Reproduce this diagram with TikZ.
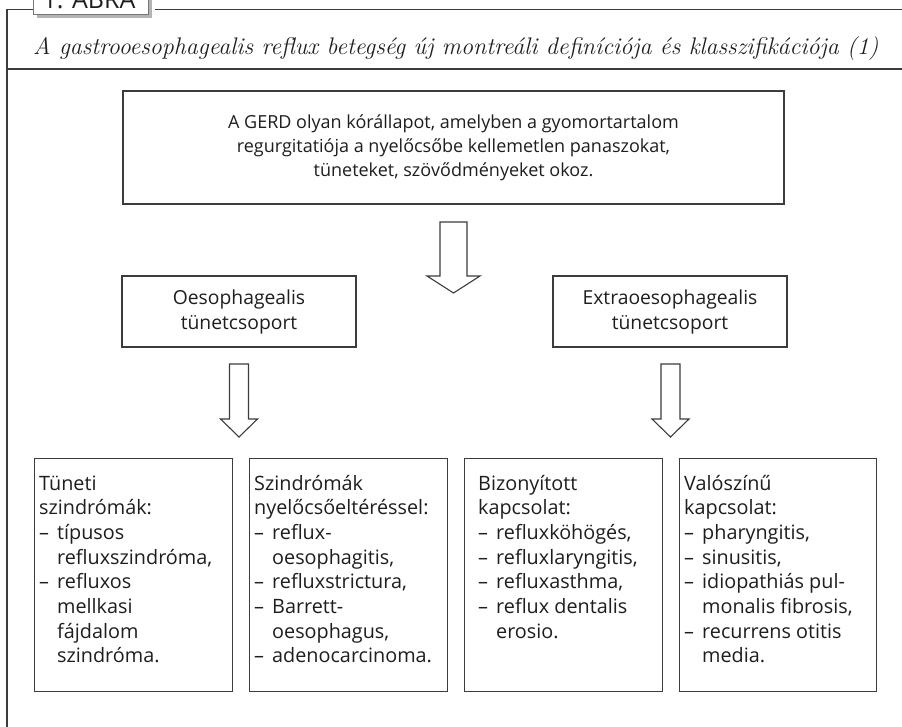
\documentclass[tikz,border=0pt]{standalone}
\usepackage{fontspec}
\newfontfamily\bodyfont{Open Sans}
\definecolor{ln}{HTML}{3C3C3C}
\definecolor{tx}{HTML}{1E1E1E}
\definecolor{shadowgray}{HTML}{B4B4B4}
\newcommand\dashitem{\makebox[18pt][l]{–}}
\newcommand\contitem{\hspace*{18pt}}
\newcommand\linesleft[1]{\begin{tabular}[t]{@{}l@{}}#1\end{tabular}}
\begin{document}
\begin{tikzpicture}[x=1pt,y=-1pt,
  frameline/.style={draw=ln, line width=1.3pt},
  box/.style={draw=ln, line width=1.3pt, fill=white, inner sep=0pt},
  txt/.style={inner sep=0pt, font=\bodyfont\fontsize{19.8}{24.7}\selectfont, text=tx},
  ctxt/.style={txt, align=center},
  blockarrow/.style={draw=ln, line width=1.1pt, fill=white, line join=miter}]
\useasboundingbox (0,0) rectangle (902,727);

% frame
\draw[frameline] (33,9.5) -- (7,9.5) -- (7,727);
\draw[frameline] (155,9.5) -- (902,9.5);
\draw[frameline] (7,69) -- (902,69);

% label
\fill[shadowgray] (37,-12) rectangle (152,18.5);
\draw[draw=ln!70, line width=1pt, fill=white] (33,-12) rectangle (148,15);
\node[txt, font=\bodyfont\fontsize{25}{30}\selectfont, anchor=base] (label) at (89,9) {1. ÁBRA};

% title
\node[inner sep=0pt, anchor=base west, font=\fontsize{24}{28}\selectfont\itshape, text=tx] (title) at (33,55)
  {A gastrooesophagealis reflux betegség új montreáli definíciója és klasszifikációja (1)};

% top box
\node[box, minimum width=661pt, minimum height=113pt] (gerd) at (453.5,147.5) {};
\node[ctxt, font=\bodyfont\fontsize{18}{23.8}\selectfont] (gerdtext) at (gerd.center)
  {A GERD olyan kórállapot, amelyben a gyomortartalom\\
   regurgitatiója a nyelőcsőbe kellemetlen panaszokat,\\
   tüneteket, szövődményeket okoz.};

% middle boxes
\node[box, minimum width=234pt, minimum height=71pt] (oes) at (239,311.5) {};
\node[ctxt, font=\bodyfont\fontsize{19.3}{25}\selectfont] (oestext) at (oes.center)
  {Oesophagealis\\tünetcsoport};
\node[box, minimum width=234pt, minimum height=71pt] (extra) at (670,311.5) {};
\node[ctxt, font=\bodyfont\fontsize{19.3}{25}\selectfont] (extratext) at (extra.center)
  {Extraoesophagealis\\tünetcsoport};

% block arrows
\coordinate (bigtip) at (453.5,293);
\draw[blockarrow] ([xshift=-13.5pt]bigtip |- 0,222) -- ([xshift=13.5pt]bigtip |- 0,222)
  -- ([xshift=13.5pt]bigtip |- 0,276) -- ([xshift=26.5pt]bigtip |- 0,276) -- (bigtip)
  -- ([xshift=-26.5pt]bigtip |- 0,276) -- ([xshift=-13.5pt]bigtip |- 0,276) -- cycle;
\coordinate (ltip) at (239,437);
\draw[blockarrow] ([xshift=-9.5pt]ltip |- 0,364) -- ([xshift=9.5pt]ltip |- 0,364)
  -- ([xshift=9.5pt]ltip |- 0,419) -- ([xshift=18.5pt]ltip |- 0,419) -- (ltip)
  -- ([xshift=-18.5pt]ltip |- 0,419) -- ([xshift=-9.5pt]ltip |- 0,419) -- cycle;
\coordinate (rtip) at (670.5,437);
\draw[blockarrow] ([xshift=-9.5pt]rtip |- 0,364) -- ([xshift=9.5pt]rtip |- 0,364)
  -- ([xshift=9.5pt]rtip |- 0,419) -- ([xshift=18.5pt]rtip |- 0,419) -- (rtip)
  -- ([xshift=-18.5pt]rtip |- 0,419) -- ([xshift=-9.5pt]rtip |- 0,419) -- cycle;

% bottom boxes
\node[box, minimum width=198pt, minimum height=233pt, anchor=north west] (b1) at (34,458) {};
\node[box, minimum width=198pt, minimum height=233pt, anchor=north west] (b2) at (249,458) {};
\node[box, minimum width=198pt, minimum height=233pt, anchor=north west] (b3) at (464,458) {};
\node[box, minimum width=197pt, minimum height=233pt, anchor=north west] (b4) at (679,458) {};

\node[txt, anchor=base west] (t1) at (39,490)
  {\linesleft{Tüneti\\szindrómák:\\\dashitem típusos\\\contitem refluxszindróma,\\\dashitem refluxos\\\contitem mellkasi\\\contitem fájdalom\\\contitem szindróma.}};
\node[txt, anchor=base west] (t2) at (254,490)
  {\linesleft{Szindrómák\\nyelőcsőeltéréssel:\\\dashitem reflux-\\\contitem oesophagitis,\\\dashitem refluxstrictura,\\\dashitem Barrett-\\\contitem oesophagus,\\\dashitem adenocarcinoma.}};
\node[txt, anchor=base west] (t3) at (478,490)
  {\linesleft{Bizonyított\\kapcsolat:\\\dashitem refluxköhögés,\\\dashitem refluxlaryngitis,\\\dashitem refluxasthma,\\\dashitem reflux dentalis\\\contitem erosio.}};
\node[txt, anchor=base west] (t4) at (684,490)
  {\linesleft{Valószínű\\kapcsolat:\\\dashitem pharyngitis,\\\dashitem sinusitis,\\\dashitem idiopathiás pul-\\\contitem monalis fibrosis,\\\dashitem recurrens otitis\\\contitem media.}};
\end{tikzpicture}
\end{document}
